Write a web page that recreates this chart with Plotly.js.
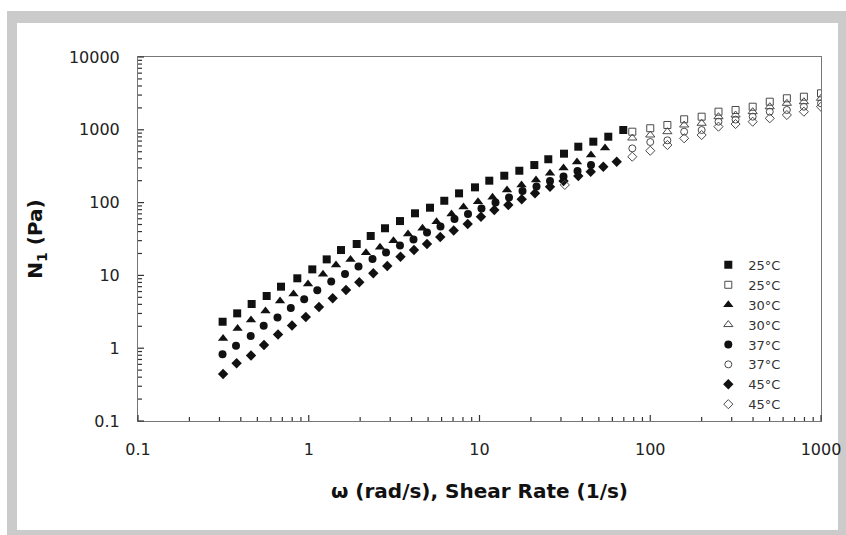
<!DOCTYPE html>
<html>
<head>
<meta charset="utf-8">
<script src="https://cdn.plot.ly/plotly-3.0.1.min.js"></script>
<style>
html,body{margin:0;padding:0;background:#ffffff;overflow:hidden;width:846px;height:535px;}
#frame{position:absolute;left:7px;top:11px;width:821px;height:507px;border-style:solid;border-color:#cbcbcb;border-width:12px 10px 10px 10px;}
#chart{position:absolute;left:0;top:0;width:846px;height:535px;}
</style>
</head>
<body>
<div id="frame"></div>
<div id="chart"></div>
<script>
// ---- data ----
const legendNames = ["25°C", "25°C", "30°C", "30°C", "37°C", "37°C", "45°C", "45°C"];

// oscillatory (filled markers): omega in rad/s, N1 in Pa
const omega25 = [0.313,0.381,0.463,0.567,0.688,0.857,1.049,1.274,1.545,1.909,2.306,2.796,3.422,4.19,5.13,6.22,7.59,9.41,11.41,13.97,17.11,20.94,25.29,31.26,37.9,46.4,56.8,69.5];
const n1Osc25 = [2.31,3.01,4.05,5.21,7.0,9.12,12.1,16.6,22.3,27.0,34.8,44.4,55.8,71.3,85.1,106,134,162,200,234,274,328,394,470,586,687,804,993];

const omega30 = [0.315,0.383,0.459,0.558,0.679,0.814,0.990,1.212,1.444,1.756,2.164,2.614,3.135,3.814,4.637,5.601,6.855,8.06,9.80,11.92,14.49,17.62,21.42,25.88,31.05,37.24,44.98,54.33];
const n1Osc30 = [1.36,1.87,2.44,3.24,4.45,5.55,7.62,10.4,13.9,16.6,20.5,24.3,30.0,37.1,44.4,54.7,69.7,87,103,118,149,175,204,253,299,361,451,562];

const omega37 = [0.3126,0.3749,0.4571,0.5446,0.6561,0.785,0.9404,1.122,1.354,1.631,1.956,2.362,2.835,3.422,4.106,4.927,5.909,7.139,8.564,10.27,12.41,14.89,17.86,21.57,25.88,31.05,37.5,44.98];
const n1Osc37 = [0.8245,1.082,1.471,2.031,2.641,3.566,4.711,6.242,8.246,10.45,13.26,16.8,20.63,25.74,31.12,38.85,46.96,59.53,69.71,82.99,100.3,117.5,144.3,166.4,198.1,228.3,271.7,328.5];

const omega45 = [0.315,0.378,0.459,0.547,0.661,0.798,0.961,1.148,1.381,1.653,1.977,2.388,2.884,3.446,4.134,4.926,5.893,7.063,8.529,10.2,12.21,14.75,17.67,21.14,25.88,31.05,37.91,44.8,53.11,63.62];
const n1Osc45 = [0.442,0.62,0.794,1.107,1.542,2.05,2.683,3.681,4.847,6.302,8.065,10.69,13.46,18.07,22.33,27.0,33.69,41.4,50.82,64.02,79.13,92.69,111,134.2,165.3,198.1,231.9,265.8,311.3,364.7];

// steady shear (open markers): shear rate in 1/s, N1 in Pa
const rate25 = [78.5,100,126,158,200,251,316,398,501,631,794,1000];
const n1Shear25 = [942,1050,1165,1394,1514,1774,1871,2075,2431,2709,2849,3172];
const rate30 = [78.5,100,126,158,200,251,316,398,501,631,794,1000];
const n1Shear30 = [771,848,942,1164,1228,1514,1597,1774,2075,2311,2431,2709];
const rate37 = [78.5,100,126,158,200,251,316,398,501,631,794,1000];
const n1Shear37 = [556,679,717,942,993,1292,1380,1514,1774,1871,2075,2311];
const rate45 = [31.6,78.5,100,126,158,200,251,316,398,501,631,794,1000];
const n1Shear45 = [175,427,516,618,764,848,1104,1200,1292,1438,1597,1774,2075];

// axis ticks
const xTickVals = [0.1, 1, 10, 100, 1000];
const xTickText = ["0.1", "1", "10", "100", "1000"];
const yTickVals = [0.1, 1, 10, 100, 1000, 10000];
const yTickText = ["0.1", "1", "10", "100", "1000", "10000"];
const xRangeLog = [-1, 3];
const yRangeLog = [-1, 4];

// minor tick positions (2..9 within each decade)
function minorTicks(decades) {
  const out = [];
  decades.forEach(function (d) { for (let k = 2; k <= 9; k++) out.push(+(k * d).toPrecision(3)); });
  return out;
}
const xMinor = minorTicks([0.1, 1, 10, 100]);
const yMinor = minorTicks([0.1, 1, 10, 100, 1000]);

// tick marks drawn as inside tick shapes, placed through the log axis range
const PLOT_W = 846 - 138 - 25, PLOT_H = 535 - 57 - 114;
function frac(v, r) { return (Math.log10(v) - r[0]) / (r[1] - r[0]); }
const tickShapes = [];
function addXTicks(vals, len) {
  vals.forEach(function (v) {
    const f = frac(v, xRangeLog);
    tickShapes.push({type: 'line', xref: 'paper', yref: 'paper', x0: f, x1: f,
      y0: 0, y1: len / PLOT_H, line: {color: '#333', width: 1.2}, layer: 'above'});
  });
}
function addYTicks(vals, len) {
  vals.forEach(function (v) {
    const f = frac(v, yRangeLog);
    tickShapes.push({type: 'line', xref: 'paper', yref: 'paper', y0: f, y1: f,
      x0: 0, x1: len / PLOT_W, line: {color: '#333', width: 1.2}, layer: 'above'});
  });
}
addXTicks(xTickVals, 6); addXTicks(xMinor, 4);
addYTicks(yTickVals, 6); addYTicks(yMinor, 4);

// ---- traces ----
function filled(x, y, name, symbol, size) {
  return {x: x, y: y, name: name, type: 'scatter', mode: 'markers',
    marker: {symbol: symbol, size: size, color: '#111111', line: {width: 0}}};
}
function open(x, y, name, symbol, size) {
  return {x: x, y: y, name: name, type: 'scatter', mode: 'markers',
    marker: {symbol: symbol, size: size, color: '#4a4a4a', line: {width: 1, color: '#4a4a4a'}}};
}
const traces = [
  filled(omega25, n1Osc25, legendNames[0], 'square', 8),
  open(rate25, n1Shear25, legendNames[1], 'square-open', 7),
  filled(omega30, n1Osc30, legendNames[2], 'triangle-up', 9),
  open(rate30, n1Shear30, legendNames[3], 'triangle-up-open', 8),
  filled(omega37, n1Osc37, legendNames[4], 'circle', 8),
  open(rate37, n1Shear37, legendNames[5], 'circle-open', 7),
  filled(omega45, n1Osc45, legendNames[6], 'diamond', 8),
  open(rate45, n1Shear45, legendNames[7], 'diamond-open', 7)
];

const FONT = 'DejaVu Sans, Arial, sans-serif';
const layout = {
  width: 846, height: 535,
  paper_bgcolor: 'rgba(0,0,0,0)', plot_bgcolor: 'rgba(0,0,0,0)',
  margin: {l: 138, r: 25, t: 57, b: 114, pad: 0},
  showlegend: true,
  legend: {x: 0.835, y: 0.47, xanchor: 'left', yanchor: 'top', bgcolor: 'rgba(0,0,0,0)',
    font: {family: FONT, size: 13, color: '#333'}, tracegroupgap: 0, itemwidth: 30},
  shapes: tickShapes,
  xaxis: {
    type: 'log', range: xRangeLog, tickmode: 'array', tickvals: xTickVals, ticktext: xTickText,
    ticks: '', showline: true, linecolor: '#777', linewidth: 1, mirror: true,
    showgrid: false, zeroline: false, automargin: false,
    tickfont: {family: FONT, size: 16, color: '#222'}, ticklabelstandoff: 14,
    title: {text: 'ω (rad/s), Shear Rate (1/s)', standoff: 25,
      font: {family: FONT, size: 20, color: '#111', weight: 'bold'}}
  },
  yaxis: {
    type: 'log', range: yRangeLog, tickmode: 'array', tickvals: yTickVals, ticktext: yTickText,
    ticks: '', showline: true, linecolor: '#777', linewidth: 1, mirror: true,
    showgrid: false, zeroline: false, automargin: false,
    tickfont: {family: FONT, size: 16, color: '#222'}, ticklabelstandoff: 14,
    title: {text: 'N<sub>1</sub> (Pa)', standoff: 20,
      font: {family: FONT, size: 20, color: '#111', weight: 'bold'}}
  }
};

Plotly.newPlot('chart', traces, layout, {displayModeBar: false, staticPlot: true});
</script>
</body>
</html>
